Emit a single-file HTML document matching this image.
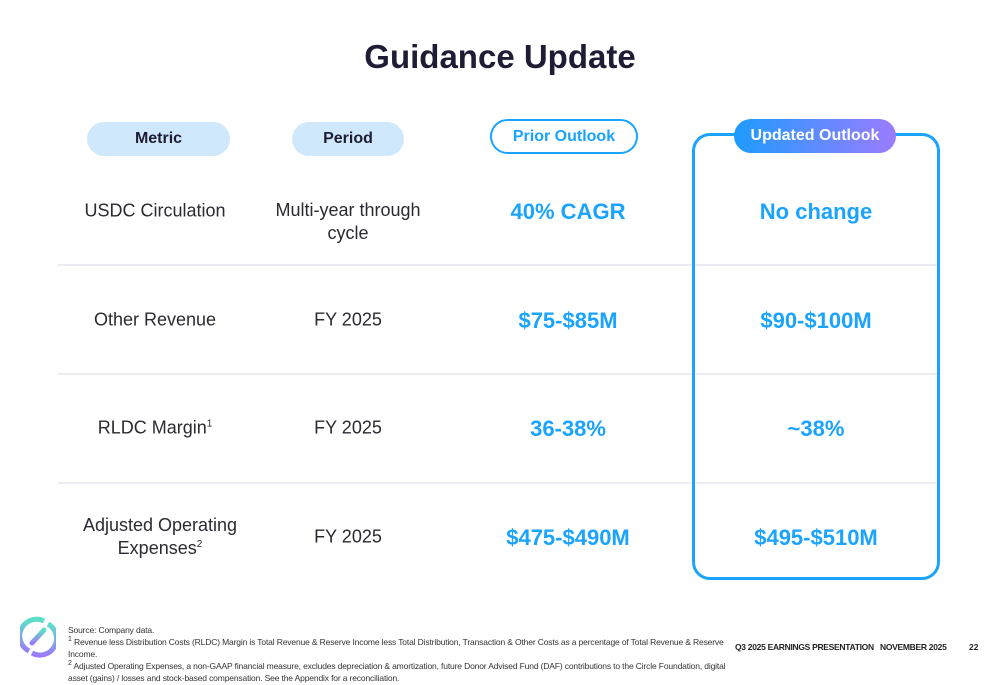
<!DOCTYPE html>
<html><head><meta charset="utf-8"><style>
*{margin:0;padding:0;box-sizing:border-box}
body{width:1000px;height:685px;background:#fff;position:relative;overflow:hidden;font-family:"Liberation Sans",sans-serif}
.a{position:absolute}
.c{text-align:center}
.pill{position:absolute;border-radius:18px;display:flex;align-items:center;justify-content:center;font-weight:bold;font-size:16px}
.m{font-size:18px;color:#2a2a33;line-height:23px;text-align:center;position:absolute;transform:translate(-50%,-50%);white-space:nowrap}
.v{font-size:22px;font-weight:bold;color:#1aa3ff;position:absolute;transform:translate(-50%,-50%);white-space:nowrap}
.hr{position:absolute;height:2px;background:#ececf2;left:58px;width:882px}
.fn{position:absolute;left:68px;font-size:8.5px;color:#333;line-height:12px;width:670px;letter-spacing:-0.15px}
sup{line-height:0;font-size:7px}
</style></head><body>
<div class="a c" style="left:0;width:1000px;top:38px;font-size:33px;font-weight:bold;color:#1f1d36">Guidance Update</div>

<div class="pill" style="left:87px;top:122px;width:143px;height:34px;background:#cfe8fb;color:#1f1d36">Metric</div>
<div class="pill" style="left:292px;top:122px;width:112px;height:34px;background:#cfe8fb;color:#1f1d36">Period</div>
<div class="pill" style="left:490px;top:119px;width:148px;height:35px;border:2px solid #1aa3ff;color:#1aa3ff">Prior Outlook</div>

<div class="hr" style="top:264px"></div>
<div class="hr" style="top:373px"></div>
<div class="hr" style="top:482px"></div>

<div class="a" style="left:692px;top:133px;width:248px;height:447px;border:3px solid #1aa3ff;border-radius:18px;background:transparent"></div>
<div class="pill" style="left:734px;top:119px;width:162px;height:34px;background:linear-gradient(90deg,#1e9bff,#9b7cff);color:#fff">Updated Outlook</div>

<div class="m" style="left:155px;top:211px">USDC Circulation</div>
<div class="m" style="left:348px;top:222px">Multi-year through<br>cycle</div>
<div class="v" style="left:568px;top:212px">40% CAGR</div>
<div class="v" style="left:816px;top:212px">No change</div>

<div class="m" style="left:155px;top:320px">Other Revenue</div>
<div class="m" style="left:348px;top:320px">FY 2025</div>
<div class="v" style="left:568px;top:321px">$75-$85M</div>
<div class="v" style="left:816px;top:321px">$90-$100M</div>

<div class="m" style="left:155px;top:428px">RLDC Margin<sup style="font-size:10px">1</sup></div>
<div class="m" style="left:348px;top:428px">FY 2025</div>
<div class="v" style="left:568px;top:429px">36-38%</div>
<div class="v" style="left:816px;top:429px">~38%</div>

<div class="m" style="left:160px;top:537px">Adjusted Operating<br>Expenses<sup style="font-size:10px">2</sup></div>
<div class="m" style="left:348px;top:537px">FY 2025</div>
<div class="v" style="left:568px;top:538px">$475-$490M</div>
<div class="v" style="left:816px;top:538px">$495-$510M</div>

<svg class="a" style="left:20px;top:616px" width="36" height="42" viewBox="0 0 36 42">
<defs><linearGradient id="g" x1="0" y1="0" x2="0" y2="1"><stop offset="0" stop-color="#5de0c8"/><stop offset="1" stop-color="#9a7cf8"/></linearGradient></defs>
<path d="M24 5 A15.5 15.5 0 0 0 9 35" fill="none" stroke="url(#g)" stroke-width="5"/>
<path d="M12 37 A15.5 15.5 0 0 0 28 8" fill="none" stroke="url(#g)" stroke-width="5"/>
<path d="M12 27 L24 14" stroke="url(#g)" stroke-width="5" stroke-linecap="round"/>
</svg>

<div class="fn" style="top:624px">Source: Company data.</div>
<div class="fn" style="top:636px"><sup>1</sup> Revenue less Distribution Costs (RLDC) Margin is Total Revenue &amp; Reserve Income less Total Distribution, Transaction &amp; Other Costs as a percentage of Total Revenue &amp; Reserve Income.</div>
<div class="fn" style="top:660px"><sup>2</sup> Adjusted Operating Expenses, a non-GAAP financial measure, excludes depreciation &amp; amortization, future Donor Advised Fund (DAF) contributions to the Circle Foundation, digital asset (gains) / losses and stock-based compensation. See the Appendix for a reconciliation.</div>

<div class="a" style="left:735px;top:642px;font-size:8.5px;font-weight:bold;color:#222;white-space:nowrap;letter-spacing:-0.3px">Q3 2025 EARNINGS PRESENTATION&nbsp;&nbsp;&nbsp;NOVEMBER 2025</div>
<div class="a" style="left:969px;top:642px;font-size:8.5px;font-weight:bold;color:#222">22</div>
</body></html>
